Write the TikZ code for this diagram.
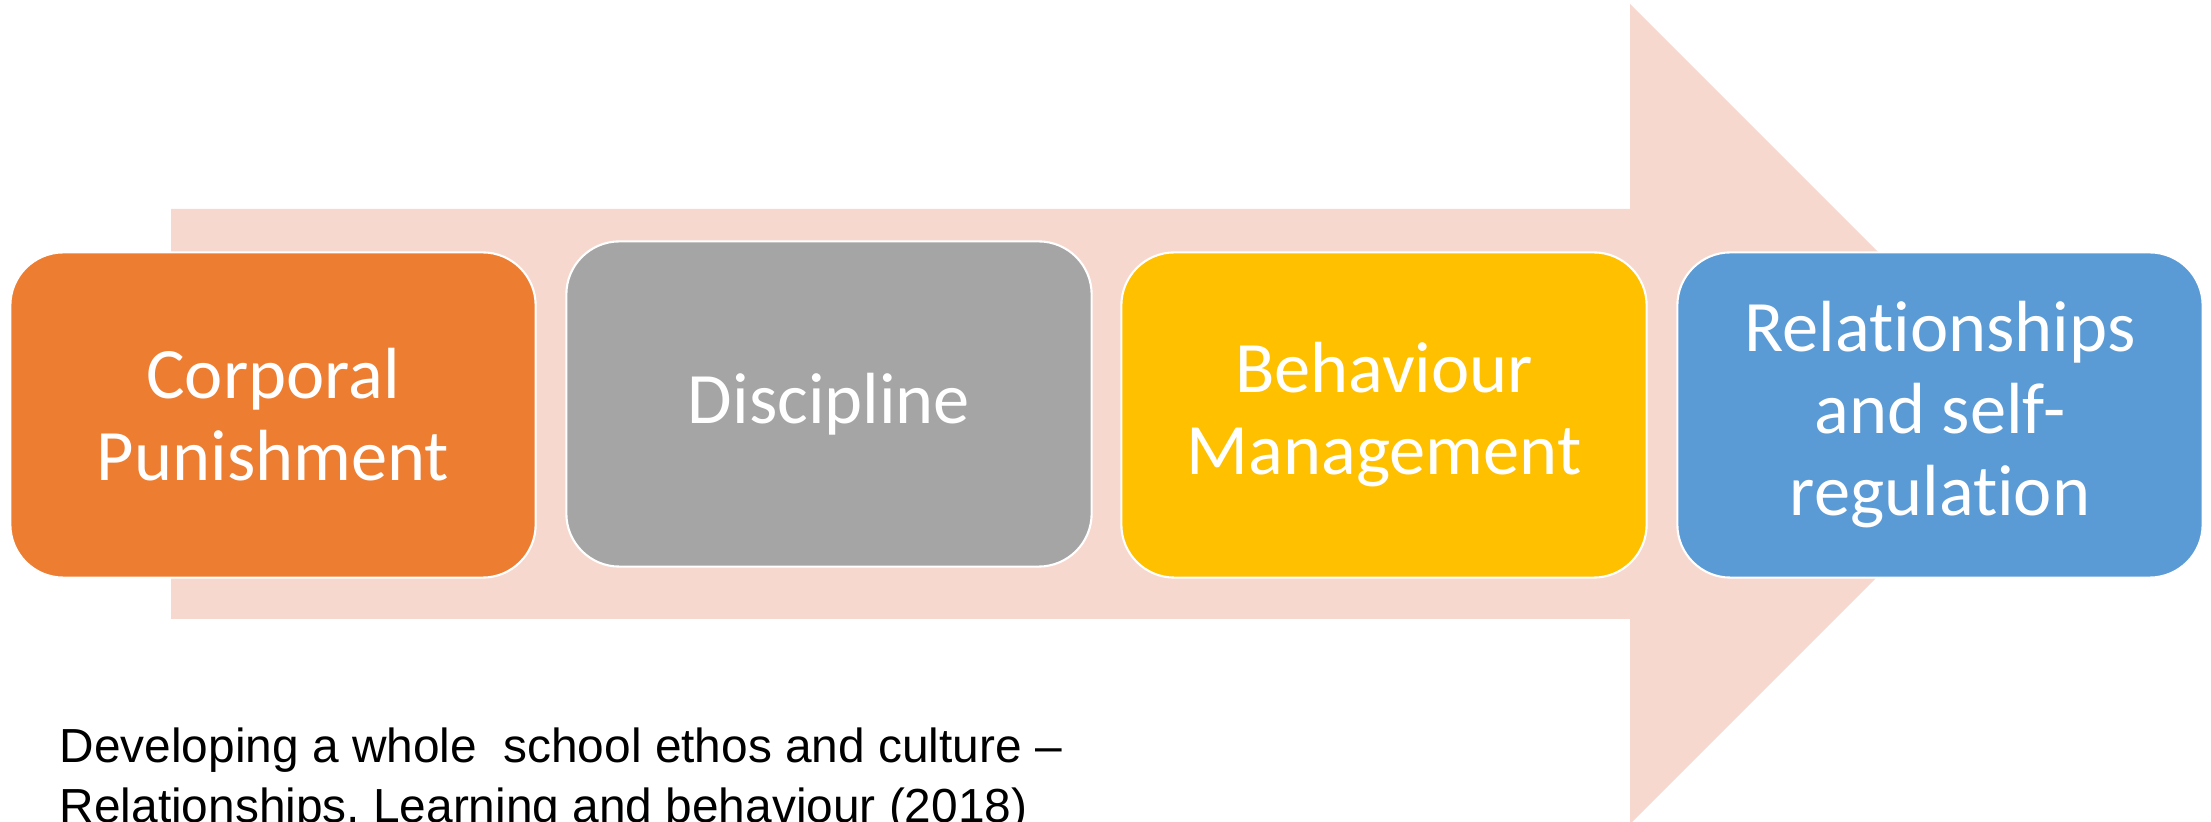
\documentclass[tikz,border=0pt]{standalone}
\usepackage{fontspec}
\setmainfont[Ligatures=NoCommon]{Carlito}
\newfontfamily\sourcefont{Liberation Sans}
\usepackage{tikz}
\definecolor{shaftcol}{RGB}{247,216,206}
\definecolor{stageorange}{HTML}{ED7D31}
\definecolor{stagegray}{HTML}{A5A5A5}
\definecolor{stageyellow}{HTML}{FFC000}
\definecolor{stageblue}{HTML}{5B9BD5}

\begin{document}
\begin{tikzpicture}[x=0.01cm,y=-0.01cm,
    stagebox/.style={rounded corners=0.53cm,draw=white,line width=0.6pt,
      minimum width=5.25cm,minimum height=3.25cm,inner sep=0pt,
      text=white,align=center,font=\fontsize{20.6}{23.3}\selectfont}]
  \useasboundingbox (0,0) rectangle (2211,822);
  % the broad arrow behind the four stages
  \fill[shaftcol] (171,209) -- (1630,209) -- (1630,4) -- (2040,414)
     -- (1630,824) -- (1630,619) -- (171,619) -- cycle;
  % stages, left to right
  \node[stagebox,fill=stageorange] (corporal)   at (273,415)  {Corporal\\Punishment};
  \node[stagebox,fill=stagegray]   (discipline) at (829,404)  {Discipline};
  \node[stagebox,fill=stageyellow] (behaviour)  at (1384,415) {Behaviour\\Management};
  \node[stagebox,fill=stageblue]   (selfreg)    at (1940,415) {Relationships\\and self-\\regulation};
  % source line
  \node[anchor=north west,inner sep=0pt,align=left,
        font=\sourcefont\fontsize{13.6}{17.1}\selectfont] (source) at (59,727)
       {Developing a whole~ school ethos and culture –\\
        Relationships, Learning and behaviour (2018)};
\end{tikzpicture}
\end{document}
